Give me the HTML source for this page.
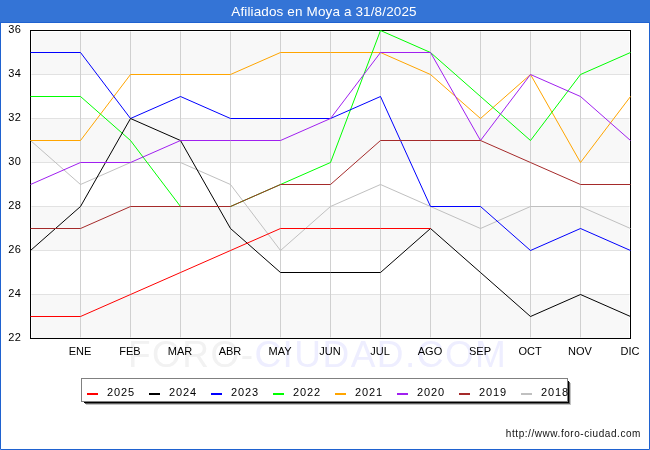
<!DOCTYPE html>
<html><head><meta charset="utf-8"><style>
html,body{margin:0;padding:0;background:#fff;}
body{width:650px;height:450px;overflow:hidden;position:relative;}
svg{position:absolute;left:0;top:0;will-change:transform;}
.t{font-family:"Liberation Sans",sans-serif;font-size:11px;fill:#000;}
.ty{font-family:"Liberation Sans",sans-serif;font-size:11px;fill:#000;letter-spacing:0.6px;}
.tl{font-family:"Liberation Sans",sans-serif;font-size:11px;fill:#000;letter-spacing:0.9px;}
.wm{font-family:"Liberation Sans",sans-serif;font-size:37px;letter-spacing:1.45px;}
.ti{font-family:"Liberation Sans",sans-serif;font-size:13.5px;fill:#fff;letter-spacing:0.13px;}
.url{font-family:"Liberation Sans",sans-serif;font-size:10px;fill:#111;letter-spacing:0.56px;}
</style></head><body>
<svg width="650" height="450" viewBox="0 0 650 450">
<rect x="0" y="0" width="650" height="450" fill="#fff"/>
<rect x="0" y="0" width="650" height="22" fill="#3474d6"/>
<path d="M0.5,22 V449.5 H649.5 V22" fill="none" stroke="#1f62d0" stroke-width="1"/>
<line x1="0" y1="22.5" x2="650" y2="22.5" stroke="#1f62d0" stroke-width="1"/>
<text x="324" y="15.5" text-anchor="middle" class="ti">Afiliados en Moya a 31/8/2025</text>
<text x="128" y="367" class="wm"><tspan fill="#f2f2f2">FORO-</tspan><tspan fill="#eeeeff">CIUDAD.COM</tspan></text>
<rect x="32" y="32" width="597" height="42" fill="#f8f8f8"/>
<rect x="32" y="74" width="597" height="44" fill="#ffffff"/>
<rect x="32" y="118" width="597" height="44" fill="#f8f8f8"/>
<rect x="32" y="162" width="597" height="44" fill="#ffffff"/>
<rect x="32" y="206" width="597" height="44" fill="#f8f8f8"/>
<rect x="32" y="250" width="597" height="44" fill="#ffffff"/>
<rect x="32" y="294" width="597" height="44" fill="#f8f8f8"/>
<line x1="32" y1="74.5" x2="629" y2="74.5" stroke="#e2e2e2" stroke-width="1"/>
<rect x="31" y="74" width="1" height="1" fill="#f0f0f0"/><rect x="629" y="74" width="1" height="1" fill="#f0f0f0"/>
<line x1="32" y1="118.5" x2="629" y2="118.5" stroke="#e2e2e2" stroke-width="1"/>
<rect x="31" y="118" width="1" height="1" fill="#f0f0f0"/><rect x="629" y="118" width="1" height="1" fill="#f0f0f0"/>
<line x1="32" y1="162.5" x2="629" y2="162.5" stroke="#e2e2e2" stroke-width="1"/>
<rect x="31" y="162" width="1" height="1" fill="#f0f0f0"/><rect x="629" y="162" width="1" height="1" fill="#f0f0f0"/>
<line x1="32" y1="206.5" x2="629" y2="206.5" stroke="#e2e2e2" stroke-width="1"/>
<rect x="31" y="206" width="1" height="1" fill="#f0f0f0"/><rect x="629" y="206" width="1" height="1" fill="#f0f0f0"/>
<line x1="32" y1="250.5" x2="629" y2="250.5" stroke="#e2e2e2" stroke-width="1"/>
<rect x="31" y="250" width="1" height="1" fill="#f0f0f0"/><rect x="629" y="250" width="1" height="1" fill="#f0f0f0"/>
<line x1="32" y1="294.5" x2="629" y2="294.5" stroke="#e2e2e2" stroke-width="1"/>
<rect x="31" y="294" width="1" height="1" fill="#f0f0f0"/><rect x="629" y="294" width="1" height="1" fill="#f0f0f0"/>
<line x1="80.5" y1="32" x2="80.5" y2="337" stroke="#d0d0d0" stroke-width="1"/>
<rect x="80" y="31" width="1" height="1" fill="#e4e4e4"/><rect x="80" y="337" width="1" height="1" fill="#e4e4e4"/>
<line x1="130.5" y1="32" x2="130.5" y2="337" stroke="#d0d0d0" stroke-width="1"/>
<rect x="130" y="31" width="1" height="1" fill="#e4e4e4"/><rect x="130" y="337" width="1" height="1" fill="#e4e4e4"/>
<line x1="180.5" y1="32" x2="180.5" y2="337" stroke="#d0d0d0" stroke-width="1"/>
<rect x="180" y="31" width="1" height="1" fill="#e4e4e4"/><rect x="180" y="337" width="1" height="1" fill="#e4e4e4"/>
<line x1="230.5" y1="32" x2="230.5" y2="337" stroke="#d0d0d0" stroke-width="1"/>
<rect x="230" y="31" width="1" height="1" fill="#e4e4e4"/><rect x="230" y="337" width="1" height="1" fill="#e4e4e4"/>
<line x1="280.5" y1="32" x2="280.5" y2="337" stroke="#d0d0d0" stroke-width="1"/>
<rect x="280" y="31" width="1" height="1" fill="#e4e4e4"/><rect x="280" y="337" width="1" height="1" fill="#e4e4e4"/>
<line x1="330.5" y1="32" x2="330.5" y2="337" stroke="#d0d0d0" stroke-width="1"/>
<rect x="330" y="31" width="1" height="1" fill="#e4e4e4"/><rect x="330" y="337" width="1" height="1" fill="#e4e4e4"/>
<line x1="380.5" y1="32" x2="380.5" y2="337" stroke="#d0d0d0" stroke-width="1"/>
<rect x="380" y="31" width="1" height="1" fill="#e4e4e4"/><rect x="380" y="337" width="1" height="1" fill="#e4e4e4"/>
<line x1="430.5" y1="32" x2="430.5" y2="337" stroke="#d0d0d0" stroke-width="1"/>
<rect x="430" y="31" width="1" height="1" fill="#e4e4e4"/><rect x="430" y="337" width="1" height="1" fill="#e4e4e4"/>
<line x1="480.5" y1="32" x2="480.5" y2="337" stroke="#d0d0d0" stroke-width="1"/>
<rect x="480" y="31" width="1" height="1" fill="#e4e4e4"/><rect x="480" y="337" width="1" height="1" fill="#e4e4e4"/>
<line x1="530.5" y1="32" x2="530.5" y2="337" stroke="#d0d0d0" stroke-width="1"/>
<rect x="530" y="31" width="1" height="1" fill="#e4e4e4"/><rect x="530" y="337" width="1" height="1" fill="#e4e4e4"/>
<line x1="580.5" y1="32" x2="580.5" y2="337" stroke="#d0d0d0" stroke-width="1"/>
<rect x="580" y="31" width="1" height="1" fill="#e4e4e4"/><rect x="580" y="337" width="1" height="1" fill="#e4e4e4"/>
<rect x="30.5" y="30.5" width="600" height="308" fill="none" stroke="#000" stroke-width="1"/>
<polyline points="30.5,140.5 80.5,184.5 130.5,162.5 180.5,162.5 230.5,184.5 280.5,250.5 330.5,206.5 380.5,184.5 430.5,206.5 480.5,228.5 530.5,206.5 580.5,206.5 630.5,228.5" fill="none" stroke="#c0c0c0" stroke-width="1" stroke-linejoin="miter"/>
<polyline points="30.5,140.5 80.5,140.5 130.5,74.5 180.5,74.5 230.5,74.5 280.5,52.5 330.5,52.5 380.5,52.5 430.5,74.5 480.5,118.5 530.5,74.5 580.5,162.5 630.5,96.5" fill="none" stroke="#ffa500" stroke-width="1" stroke-linejoin="miter"/>
<polyline points="30.5,96.5 80.5,96.5 130.5,140.5 180.5,206.5 230.5,206.5 280.5,184.5 330.5,162.5 380.5,30.5 430.5,52.5 480.5,96.5 530.5,140.5 580.5,74.5 630.5,52.5" fill="none" stroke="#00ff00" stroke-width="1" stroke-linejoin="miter"/>
<polyline points="30.5,52.5 80.5,52.5 130.5,118.5 180.5,96.5 230.5,118.5 280.5,118.5 330.5,118.5 380.5,96.5 430.5,206.5 480.5,206.5 530.5,250.5 580.5,228.5 630.5,250.5" fill="none" stroke="#0000ff" stroke-width="1" stroke-linejoin="miter"/>
<polyline points="30.5,250.5 80.5,206.5 130.5,118.5 180.5,140.5 230.5,228.5 280.5,272.5 330.5,272.5 380.5,272.5 430.5,228.5 480.5,272.5 530.5,316.5 580.5,294.5 630.5,316.5" fill="none" stroke="#000000" stroke-width="1" stroke-linejoin="miter"/>
<polyline points="30.5,316.5 80.5,316.5 130.5,294.5 180.5,272.5 230.5,250.5 280.5,228.5 330.5,228.5 380.5,228.5 430.5,228.5" fill="none" stroke="#ff0000" stroke-width="1" stroke-linejoin="miter"/>
<polyline points="30.5,184.5 80.5,162.5 130.5,162.5 180.5,140.5 230.5,140.5 280.5,140.5 330.5,118.5 380.5,52.5 430.5,52.5 480.5,140.5 530.5,74.5 580.5,96.5 630.5,140.5" fill="none" stroke="#a020f0" stroke-width="1" stroke-linejoin="miter"/>
<polyline points="30.5,228.5 80.5,228.5 130.5,206.5 180.5,206.5 230.5,206.5 280.5,184.5 330.5,184.5 380.5,140.5 430.5,140.5 480.5,140.5 530.5,162.5 580.5,184.5 630.5,184.5" fill="none" stroke="#a52a2a" stroke-width="1" stroke-linejoin="miter"/>
<text x="21.6" y="33" text-anchor="end" class="ty">36</text>
<text x="21.6" y="77" text-anchor="end" class="ty">34</text>
<text x="21.6" y="121" text-anchor="end" class="ty">32</text>
<text x="21.6" y="165" text-anchor="end" class="ty">30</text>
<text x="21.6" y="209" text-anchor="end" class="ty">28</text>
<text x="21.6" y="253" text-anchor="end" class="ty">26</text>
<text x="21.6" y="297" text-anchor="end" class="ty">24</text>
<text x="21.6" y="341" text-anchor="end" class="ty">22</text>
<text x="80" y="355" text-anchor="middle" class="t">ENE</text>
<text x="130" y="355" text-anchor="middle" class="t">FEB</text>
<text x="180" y="355" text-anchor="middle" class="t">MAR</text>
<text x="230" y="355" text-anchor="middle" class="t">ABR</text>
<text x="280" y="355" text-anchor="middle" class="t">MAY</text>
<text x="330" y="355" text-anchor="middle" class="t">JUN</text>
<text x="380" y="355" text-anchor="middle" class="t">JUL</text>
<text x="430" y="355" text-anchor="middle" class="t">AGO</text>
<text x="480" y="355" text-anchor="middle" class="t">SEP</text>
<text x="530" y="355" text-anchor="middle" class="t">OCT</text>
<text x="580" y="355" text-anchor="middle" class="t">NOV</text>
<text x="630" y="355" text-anchor="middle" class="t">DIC</text>
<rect x="86" y="383" width="485" height="22" fill="#c4c4c4"/>
<rect x="85" y="382" width="485" height="22" fill="#606060"/>
<rect x="84" y="381" width="485" height="22" fill="#000"/>
<rect x="81.5" y="378.5" width="486" height="23" fill="#fff" stroke="#808080" stroke-width="1"/>
<rect x="87" y="393" width="11" height="2" fill="#ff0000"/>
<text x="107" y="396" class="tl">2025</text>
<rect x="149" y="393" width="11" height="2" fill="#000000"/>
<text x="169" y="396" class="tl">2024</text>
<rect x="211" y="393" width="11" height="2" fill="#0000ff"/>
<text x="231" y="396" class="tl">2023</text>
<rect x="273" y="393" width="11" height="2" fill="#00ff00"/>
<text x="293" y="396" class="tl">2022</text>
<rect x="335" y="393" width="11" height="2" fill="#ffa500"/>
<text x="355" y="396" class="tl">2021</text>
<rect x="397" y="393" width="11" height="2" fill="#a020f0"/>
<text x="417" y="396" class="tl">2020</text>
<rect x="459" y="393" width="11" height="2" fill="#a52a2a"/>
<text x="479" y="396" class="tl">2019</text>
<rect x="521" y="393" width="11" height="2" fill="#c0c0c0"/>
<text x="541" y="396" class="tl">2018</text>
<text x="641" y="437" text-anchor="end" class="url">http://www.foro-ciudad.com</text>
</svg>
</body></html>
